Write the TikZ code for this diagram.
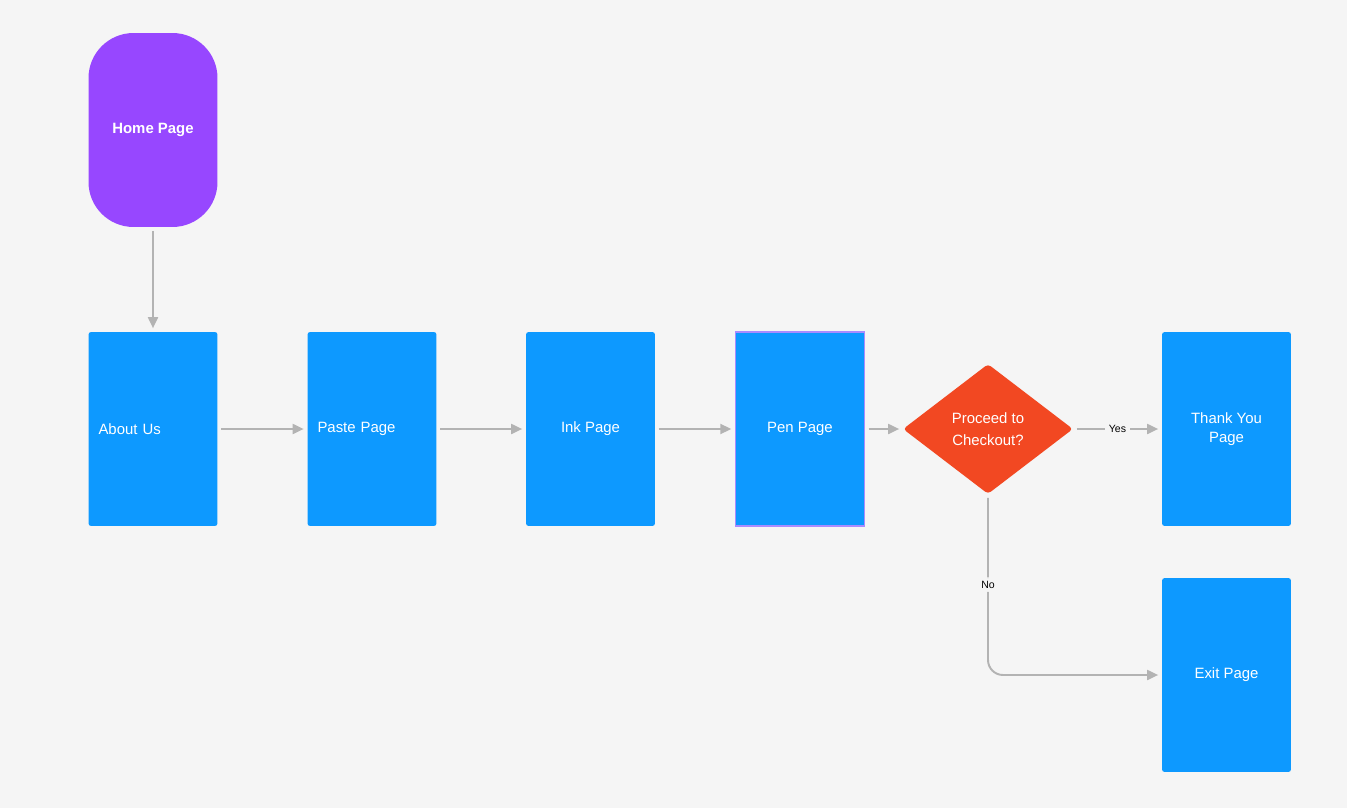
\documentclass[tikz,border=0pt]{standalone}
\usepackage{fontspec}
\setmainfont{Liberation Sans}
\usepackage{xcolor}
\usetikzlibrary{positioning,shapes.geometric,arrows.meta,backgrounds}

\definecolor{canvas}{HTML}{F5F5F5}
\definecolor{pageblue}{HTML}{0D99FF}
\definecolor{homepurple}{HTML}{9747FF}
\definecolor{choicered}{HTML}{F24822}
\definecolor{linegray}{HTML}{B3B3B3}
\definecolor{selectpurple}{HTML}{A98BFF}

\begin{document}
\begin{tikzpicture}[
    x=0.02cm, y=-0.02cm,
    page/.style={fill=pageblue, rounded corners=1.5pt, minimum width=2.58cm, minimum height=3.88cm,
        text=white, font=\fontsize{8.5}{10.5}\selectfont, align=center, inner sep=0pt},
    pageleft/.style={page, text width=2.18cm, align=left},
    choice/.style={diamond, fill=choicered, rounded corners=2pt, minimum width=3.4cm, minimum height=2.6cm,
        inner sep=0pt, text=white, font=\fontsize{8.5}{12.5}\selectfont, align=center},
    arrow/.style={-{Triangle[length=0.22cm, width=0.2cm]}, draw=linegray, line width=1.1pt, shorten <=2pt, shorten >=2pt},
    tag/.style={fill=canvas, font=\fontsize{6}{7}\selectfont, inner sep=2pt}
]

% Canvas
\fill[canvas] (0,0) rectangle (1347,808);
\useasboundingbox (0,0) rectangle (1347,808);

% Start
\node[fill=homepurple, rounded corners=0.9cm, minimum width=2.58cm, minimum height=3.88cm,
    text=white, font=\bfseries\fontsize{8.5}{10.5}\selectfont] (home) at (153,130) {Home Page};

% Page row
\node[pageleft] (about) at (153,429) {About Us};
\node[pageleft] (paste) at (372,429) {Paste Page};
\node[page] (ink) at (590.5,429) {Ink Page};
\node[page, draw=selectpurple, line width=0.8pt, rounded corners=0pt] (pen) at (800,429) {Pen Page};

% Decision
\node[choice] (checkout) at (988,429) {Proceed to\\Checkout?};

% End pages
\node[page] (thanks) at (1226.5,429) {Thank You\\Page};
\node[page] (exit) at (1226.5,675) {Exit Page};

% Connectors
\draw[arrow] (home) -- (about);
\draw[arrow] (about) -- (paste);
\draw[arrow] (paste) -- (ink);
\draw[arrow] (ink) -- (pen);
\draw[arrow] (pen) -- (checkout);
\draw[arrow] (checkout) -- node[tag] {Yes} (thanks);
\draw[arrow, rounded corners=0.3cm] (checkout.south) |- node[tag, pos=0.25] {No} (exit.west);

\end{tikzpicture}
\end{document}
